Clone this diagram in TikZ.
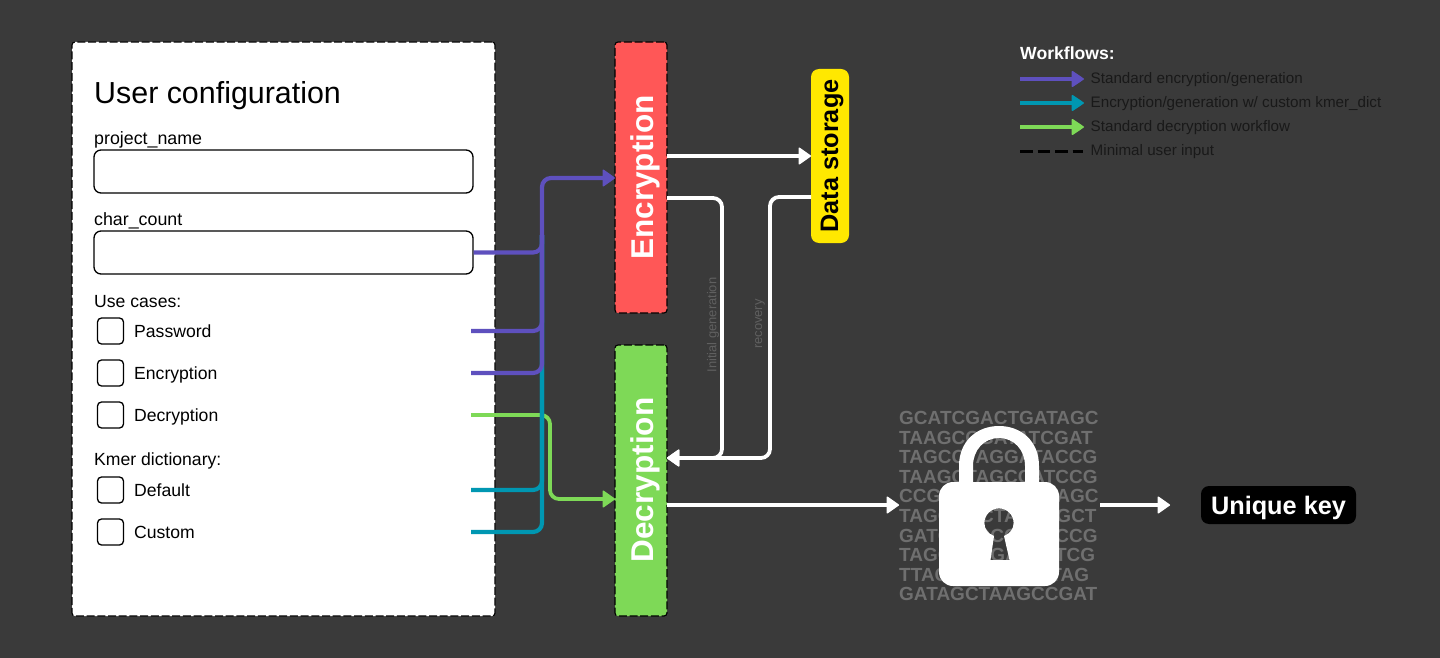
\documentclass[tikz,border=0pt]{standalone}
\usepackage{fontspec}
\setmainfont{Liberation Sans}
\usetikzlibrary{arrows.meta}
\definecolor{bgc}{HTML}{3A3A3A}
\definecolor{purp}{HTML}{5E50BE}
\definecolor{teal2}{HTML}{0097B2}
\definecolor{gree}{HTML}{7ED957}
\definecolor{redc}{HTML}{FF5757}
\definecolor{yel}{HTML}{FFE800}
\definecolor{dna}{HTML}{6F6F6F}
\definecolor{fnt}{HTML}{606060}
\newcommand{\fs}[1]{\fontsize{#1}{#1}\selectfont}
\tikzset{
  x=1pt,y=-1pt,
  tip/.style={-{Triangle[length=13pt,width=18pt,round,line width=1.5pt]}},
  flow/.style={line width=4.2pt,rounded corners=9pt},
  pflow/.style={flow,purp},
  tflow/.style={flow,teal2},
  gflow/.style={flow,gree,line width=3.8pt},
  wflow/.style={flow,white,line width=3.8pt},
  dashborder/.style={draw=black,line width=1.1pt,dash pattern=on 8pt off 2.7pt,rounded corners=3pt},
  inbox/.style={draw=black,line width=1.3pt,rounded corners=7pt,fill=white,minimum width=379pt,minimum height=43pt,inner sep=0pt},
  chk/.style={draw=black,line width=1.3pt,rounded corners=4pt,fill=white,minimum width=26pt,minimum height=26pt,inner sep=0pt},
  lab/.style={anchor=base west,inner sep=0pt,text=black},
  optlab/.style={lab,font=\fs{17.6}},
  dnatext/.style={anchor=base west,inner sep=0pt,text=dna,font=\bfseries\fs{19}},
  legtext/.style={anchor=base west,inner sep=0pt,text=black!90,font=\fs{15.2}},
  legarrow/.style={line width=3.8pt,-{Triangle[length=13pt,width=17pt,round,line width=1.5pt]}},
  vlabel/.style={rotate=90,inner sep=0pt,text=white,font=\bfseries\fs{31.5}},
  faint/.style={rotate=90,inner sep=0pt,text=fnt,font=\fs{12.9}},
}
\begin{document}
\begin{tikzpicture}
\useasboundingbox[fill=bgc] (0,0) rectangle (1440,658);

% user configuration panel
\node[dashborder,fill=white,minimum width=423pt,minimum height=574pt,inner sep=0pt] (panel) at (283.5,329) {};
\node[lab,font=\fs{30.4}] (title) at (94,103.5) {User configuration};
\node[lab,font=\fs{17.8}] (pn) at (94,144) {project\_name};
\node[inbox] (inA) at (283.5,171.5) {};
\node[lab,font=\fs{17.8}] (cc) at (94,225.5) {char\_count};
\node[inbox] (inB) at (283.5,252.5) {};
\node[optlab] (uc) at (94,307) {Use cases:};
\node[chk] (c1) at (110.5,331) {};
\node[chk] (c2) at (110.5,373) {};
\node[chk] (c3) at (110.5,415) {};
\node[optlab] (l1) at (134,337) {Password};
\node[optlab] (l2) at (134,379) {Encryption};
\node[optlab] (l3) at (134,421) {Decryption};
\node[optlab] (kd) at (94,465.5) {Kmer dictionary:};
\node[chk] (c4) at (110.5,490) {};
\node[chk] (c5) at (110.5,532) {};
\node[optlab] (l4) at (134,496) {Default};
\node[optlab] (l5) at (134,538) {Custom};

% blocks
\node[dashborder,fill=redc,minimum width=52pt,minimum height=271pt,inner sep=0pt] (enc) at (641,177.5) {};
\node[vlabel] (enct) at (645,177.5) {Encryption};
\node[dashborder,fill=gree,minimum width=52pt,minimum height=271pt,inner sep=0pt] (dec) at (641,480.5) {};
\node[vlabel] (dect) at (645,480) {Decryption};
\node[fill=yel,rounded corners=8pt,minimum width=38pt,minimum height=174pt,inner sep=0pt] (store) at (830,156) {};
\node[rotate=90,inner sep=0pt,text=black,font=\bfseries\fs{25.3}] (storet) at (832,156) {Data storage};
\node[fill=black,rounded corners=8pt,minimum width=155pt,minimum height=38pt,inner sep=0pt,text=white,font=\bfseries\fs{25.3},text height=18pt,text depth=0pt] (ukey) at (1278.5,505) {Unique key};

% free ends
\coordinate (s1) at (471,331);
\coordinate (s2) at (471,373);
\coordinate (s3) at (471,415);
\coordinate (s4) at (471,490);
\coordinate (s5) at (471,532);
\coordinate (busT) at (542,178);
\coordinate (busM) at (542,235);
\coordinate (gT) at (550,415);
\coordinate (gB) at (550,499);
\coordinate (eIn) at (615,178);
\coordinate (dIn) at (615,499);

% green flow
\draw[gflow,tip] (s3) -- (gT) -- (gB) -- (dIn);
% teal flow
\draw[tflow] (s4) -| (busM);
\draw[tflow] (s5) -| (busM);
% purple flow
\draw[pflow] (inB.east) -| (busM);
\draw[pflow] (s1) -| (busM);
\draw[pflow] (s2) -| (busM);
\draw[pflow,tip] (busM) -- (busT) -- (eIn);

% white flows
\coordinate (eOut1) at (667,156);
\coordinate (sIn) at (811,156);
\coordinate (eOut2) at (667,198);
\coordinate (eC) at (722,198);
\coordinate (dBack) at (667,458);
\coordinate (sOut) at (811,197);
\coordinate (sC) at (770,197);
\coordinate (dOut) at (667,505);
\coordinate (lockIn) at (899,505);
\coordinate (lockOut) at (1100,505);
\coordinate (keyIn) at (1170,505);
\draw[wflow,tip] (eOut1) -- (sIn);
\draw[wflow,tip] (eOut2) -- (eC) |- (dBack);
\draw[wflow,tip] (sOut) -- (sC) |- (dBack);
\draw[wflow,tip] (dOut) -- (lockIn);
\draw[wflow,tip] (lockOut) -- (keyIn);

% edge labels
\node[faint] (ig) at (713,325) {Initial generation};
\node[faint] (rc) at (760,324) {recovery};

% sequence text behind the lock
\node[dnatext] (d1) at (899,424.5) {GCATCGACTGATAGC};
\node[dnatext] (d2) at (899,444) {TAAGCCGATATCGAT};
\node[dnatext] (d3) at (899,463.6) {TAGCCTAGGATACCG};
\node[dnatext] (d4) at (899,483.2) {TAAGCTAGCCATCCG};
\node[dnatext] (d5) at (899,502.8) {CCGTAGCTAGCTAGC};
\node[dnatext] (d6) at (899,522.4) {TAGCAGCTAGATGCT};
\node[dnatext] (d7) at (899,542) {GATCTAGCCTAACCG};
\node[dnatext] (d8) at (899,561.6) {TAGCTAGGATCATCG};
\node[dnatext] (d9) at (899,581.2) {TTACGATCGATATAG};
\node[dnatext] (d10) at (899,600.8) {GATAGCTAAGCCGAT};

% padlock
\fill[white] (959,490) -- (959,466) .. controls (959,441) and (977,426) .. (999,426)
  .. controls (1021,426) and (1039,441) .. (1039,466) -- (1039,490) -- (1025,490) -- (1025,466)
  .. controls (1025,450) and (1014,438) .. (999,438)
  .. controls (984,438) and (973,450) .. (973,466) -- (973,490) -- cycle;
\fill[white,even odd rule]
  [rounded corners=14pt] (939,482) rectangle (1059,586)
  [sharp corners] (994,536) .. controls (988,533.5) and (984.4,529) .. (984.4,523)
  .. controls (984.4,515) and (991,508.4) .. (999,508.4)
  .. controls (1007,508.4) and (1013.6,515) .. (1013.6,523)
  .. controls (1013.6,529) and (1010,533.5) .. (1004,536)
  -- (1009.5,560) -- (990.5,560) -- cycle;

% legend
\node[anchor=base west,inner sep=0pt,text=white,font=\bfseries\fs{17.6}] (wf) at (1020,60) {Workflows:};
\coordinate (a1) at (1020,79);  \coordinate (b1) at (1084,79);
\coordinate (a2) at (1020,103); \coordinate (b2) at (1084,103);
\coordinate (a3) at (1020,127); \coordinate (b3) at (1084,127);
\coordinate (a4) at (1020,151.5); \coordinate (b4) at (1083,151.5);
\draw[legarrow,purp] (a1) -- (b1);
\draw[legarrow,teal2] (a2) -- (b2);
\draw[legarrow,gree] (a3) -- (b3);
\draw[line width=3.8pt,black,dash pattern=on 12.5pt off 5pt] (a4) -- (b4);
\node[legtext] (t1) at (1090.5,83.5) {Standard encryption/generation};
\node[legtext] (t2) at (1090.5,107.5) {Encryption/generation w/ custom kmer\_dict};
\node[legtext] (t3) at (1090.5,131.5) {Standard decryption workflow};
\node[legtext] (t4) at (1090.5,155.5) {Minimal user input};
\end{tikzpicture}
\end{document}
